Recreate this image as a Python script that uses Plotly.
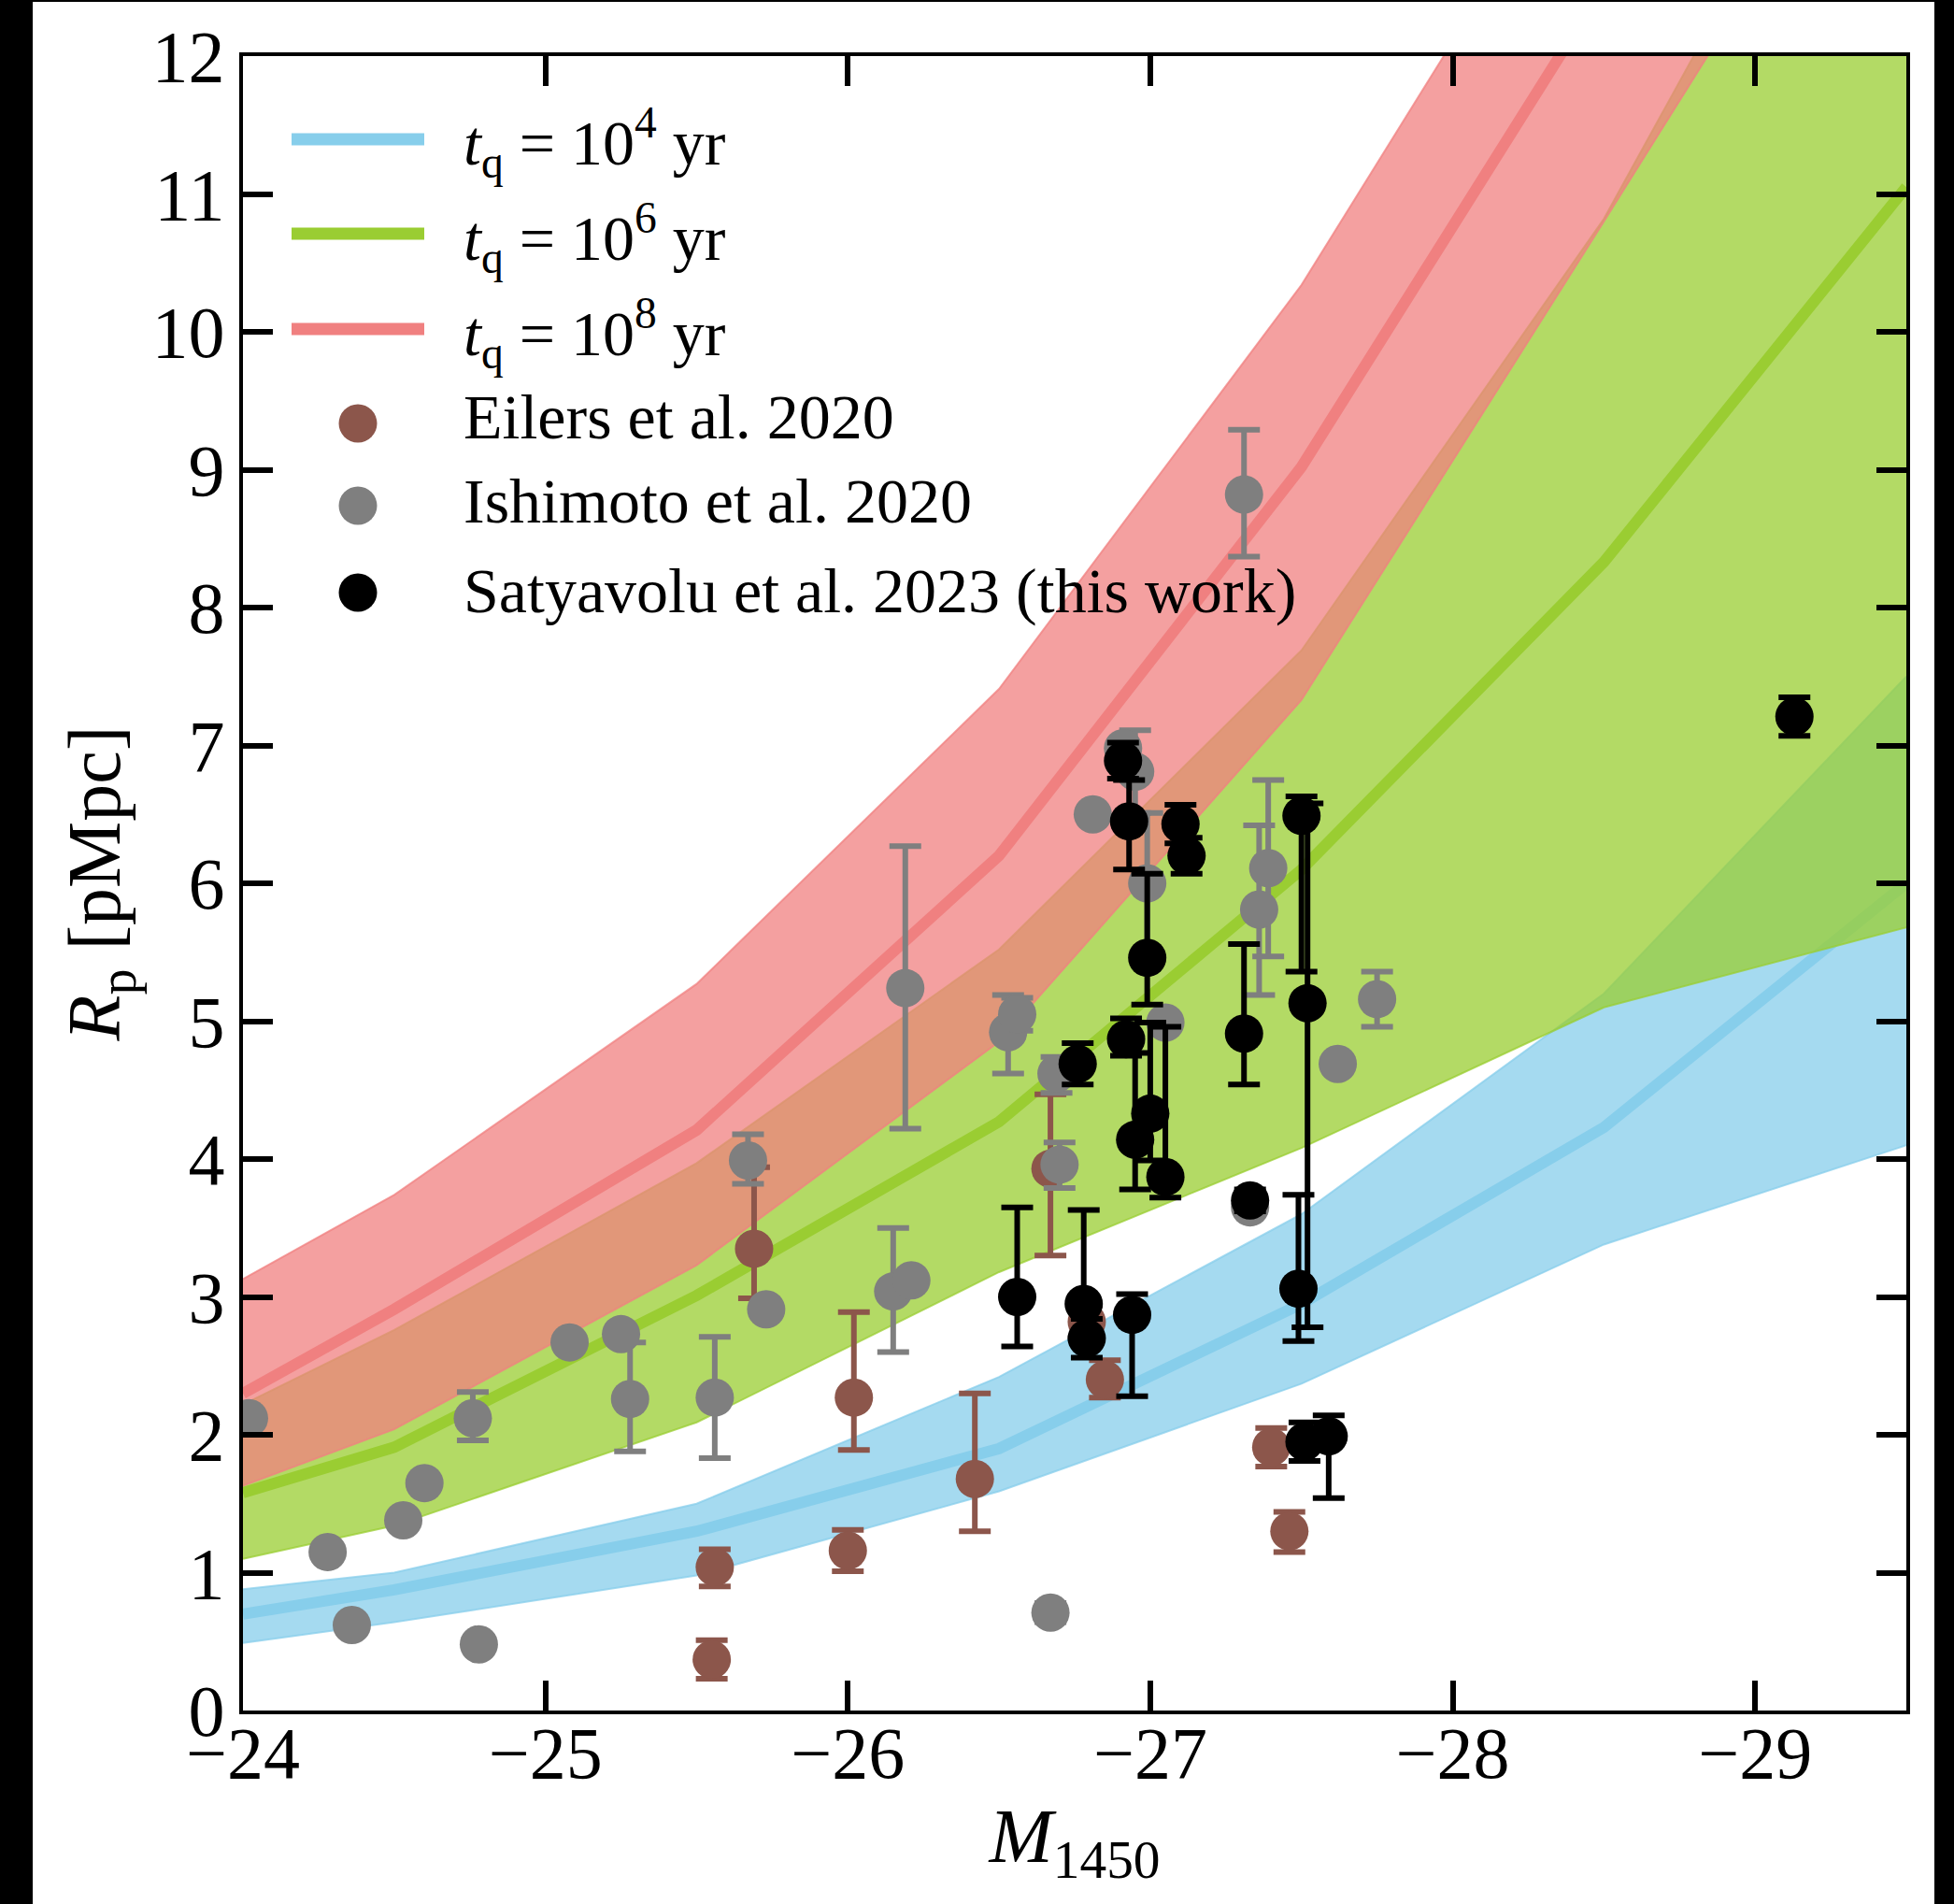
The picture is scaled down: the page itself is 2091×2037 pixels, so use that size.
import plotly.graph_objects as go

# ---------------------------------------------------------------
# Model proximity-zone sizes R_p versus M_1450 for three quasar
# lifetimes (median and 16-84 percentile envelope)
# ---------------------------------------------------------------
M_GRID = [-24.0, -24.5, -25.5, -26.5, -27.5, -28.5, -29.5]

RP_T4_LO = [0.49, 0.64, 0.98, 1.59, 2.37, 3.38, 4.10]
RP_T4_MED = [0.70, 0.875, 1.30, 1.90, 2.95, 4.23, 6.00]
RP_T4_HI = [0.88, 1.00, 1.50, 2.42, 3.60, 5.20, 7.50]

RP_T6_LO = [1.10, 1.34, 2.09, 3.18, 4.08, 5.10, 5.68]
RP_T6_MED = [1.58, 1.91, 3.01, 4.27, 6.10, 8.33, 11.05]
RP_T6_HI = [2.22, 2.76, 3.97, 5.52, 7.69, 10.82, 14.80]

RP_T8_LO = [1.63, 2.04, 3.23, 4.85, 7.33, 10.80, 14.30]
RP_T8_MED = [2.30, 2.91, 4.21, 6.20, 9.02, 12.50, 16.00]
RP_T8_HI = [3.13, 3.74, 5.27, 7.41, 10.34, 13.85, 17.40]

# ---------------------------------------------------------------
# Measured proximity zones
# ---------------------------------------------------------------
EILERS_M = [-25.55, -25.56, -25.69, -26.00, -26.02, -26.42, -26.67, -26.79, -26.85, -27.40, -27.46]
EILERS_RP = [0.37, 1.04, 3.35, 1.16, 2.27, 1.68, 3.93, 2.82, 2.40, 1.91, 1.30]
EILERS_UP = [0.14, 0.13, 0.59, 0.15, 0.62, 0.62, 0.54, 0.12, 0.14, 0.14, 0.14]
EILERS_DN = [0.14, 0.14, 0.36, 0.15, 0.38, 0.38, 0.63, 0.12, 0.13, 0.14, 0.15]

ISHIMOTO_M = [-24.02, -24.28, -24.36, -24.53, -24.60, -24.76, -24.78, -25.08,
              -25.25, -25.28, -25.56, -25.67, -25.73, -26.15, -26.21, -26.19,
              -26.53, -26.56, -26.69, -26.70, -26.67, -26.81, -26.91, -26.95,
              -26.99, -27.05, -27.33, -27.36, -27.39, -27.62, -27.75, -27.31]
ISHIMOTO_RP = [2.12, 1.15, 0.62, 1.38, 1.65, 2.12, 0.48, 2.67,
               2.73, 2.26, 2.27, 3.99, 2.91, 3.04, 3.12, 5.24,
               4.92, 5.05, 4.62, 3.96, 0.71, 6.50, 6.98, 6.81,
               6.00, 4.99, 3.65, 5.81, 6.11, 4.69, 5.16, 8.82]
ISHIMOTO_UP = [0, 0, 0, 0, 0, 0.19, 0, 0,
               0, 0.41, 0.44, 0.19, 0, 0.46, 0, 1.03,
               0.27, 0.12, 0.12, 0.16, 0.07, 0, 0, 0.30,
               0.51, 0, 0.04, 0.61, 0.64, 0, 0.20, 0.47]
ISHIMOTO_DN = [0, 0, 0, 0, 0, 0.16, 0, 0,
               0, 0.38, 0.44, 0.17, 0, 0.44, 0, 1.02,
               0.30, 0.12, 0.14, 0.17, 0.07, 0, 0, 0.30,
               0.50, 0, 0.04, 0.62, 0.64, 0, 0.20, 0.45]

SATYA_M = [-26.91, -26.93, -27.10, -27.12, -26.99, -26.76, -26.92, -26.95,
           -27.00, -27.05, -27.31, -27.33, -27.50, -27.52, -27.49, -26.56,
           -26.78, -26.79, -26.94, -27.51, -27.59, -29.13]
SATYA_RP = [6.89, 6.45, 6.43, 6.20, 5.46, 4.69, 4.87, 4.14,
            4.33, 3.87, 4.91, 3.70, 6.49, 5.13, 3.06, 3.00,
            2.95, 2.70, 2.87, 1.95, 1.99, 7.21]
SATYA_UP = [0.13, 0.30, 0.14, 0.13, 0.61, 0.15, 0.15, 0.63,
            0.66, 1.09, 0.65, 0.08, 0.14, 1.45, 0.68, 0.65,
            0.68, 0.14, 0.15, 0.14, 0.15, 0.14]
SATYA_DN = [0.13, 0.35, 0.14, 0.13, 0.34, 0.15, 0.12, 0.36,
            0.34, 0.15, 0.37, 0.08, 1.13, 2.35, 0.38, 0.36,
            0.25, 0.14, 0.59, 0.14, 0.45, 0.14]

X_TICKS = [-24, -25, -26, -27, -28, -29]
Y_TICKS = list(range(0, 13))

LEGEND_LABELS = [
    "<i>t</i><sub>q</sub> = 10<sup>4</sup> yr",
    "<i>t</i><sub>q</sub> = 10<sup>6</sup> yr",
    "<i>t</i><sub>q</sub> = 10<sup>8</sup> yr",
    "Eilers et al. 2020",
    "Ishimoto et al. 2020",
    "Satyavolu et al. 2023 (this work)",
]

BLUE = "135,206,235"
GREEN = "154,205,50"
RED = "240,128,128"
BROWN = "#8c564b"
GRAY = "#7f7f7f"
BLACK = "#000000"
FONT = "Liberation Serif"

# ---------------------------------------------------------------
# Canvas geometry (pixels)
# ---------------------------------------------------------------
W, H = 2091, 2037
L, R, T, B = 260, 2040, 60, 1830


def px_x(px):
    return (px - L) / (R - L)


def px_y(py):
    return (B - py) / (B - T)


fig = go.Figure()


def add_band(lo, med, hi, rgb):
    edge = f"rgba({rgb},0.75)"
    fig.add_trace(go.Scatter(x=M_GRID, y=lo, mode="lines",
                             line=dict(color=edge, width=2),
                             showlegend=False, hoverinfo="skip"))
    fig.add_trace(go.Scatter(x=M_GRID, y=hi, mode="lines", fill="tonexty",
                             fillcolor=edge, line=dict(color=edge, width=2),
                             showlegend=False, hoverinfo="skip"))
    fig.add_trace(go.Scatter(x=M_GRID, y=med, mode="lines",
                             line=dict(color=f"rgb({rgb})", width=12),
                             showlegend=False))


add_band(RP_T4_LO, RP_T4_MED, RP_T4_HI, BLUE)
add_band(RP_T6_LO, RP_T6_MED, RP_T6_HI, GREEN)
add_band(RP_T8_LO, RP_T8_MED, RP_T8_HI, RED)


def add_points(m, rp, up, dn, color):
    fig.add_trace(go.Scatter(
        x=m, y=rp, mode="markers",
        marker=dict(size=41, color=color, line=dict(width=0)),
        error_y=dict(type="data", symmetric=False, array=up, arrayminus=dn,
                     color=color, thickness=6, width=17),
        showlegend=False))


add_points(EILERS_M, EILERS_RP, EILERS_UP, EILERS_DN, BROWN)
add_points(ISHIMOTO_M, ISHIMOTO_RP, ISHIMOTO_UP, ISHIMOTO_DN, GRAY)
add_points(SATYA_M, SATYA_RP, SATYA_UP, SATYA_DN, BLACK)

# ---------------------------------------------------------------
# Hand-drawn legend
# ---------------------------------------------------------------
shapes = []
annotations = []
line_rows = [149, 250, 352]
line_cols = [f"rgb({BLUE})", f"rgb({GREEN})", f"rgb({RED})"]
for yy, col in zip(line_rows, line_cols):
    shapes.append(dict(type="line", xref="paper", yref="paper",
                       x0=px_x(312), x1=px_x(454), y0=px_y(yy), y1=px_y(yy),
                       line=dict(color=col, width=13)))
marker_rows = [453, 541, 634]
marker_cols = [BROWN, GRAY, BLACK]
rad = 20.5
for yy, col in zip(marker_rows, marker_cols):
    shapes.append(dict(type="circle", xref="paper", yref="paper",
                       x0=px_x(383 - rad), x1=px_x(383 + rad),
                       y0=px_y(yy + rad), y1=px_y(yy - rad),
                       fillcolor=col, line=dict(width=0)))
text_rows = [153, 254, 356, 446, 536, 632]
for yy, lab in zip(text_rows, LEGEND_LABELS):
    annotations.append(dict(text=lab, xref="paper", yref="paper",
                            x=px_x(494), y=px_y(yy), xanchor="left",
                            yanchor="middle", showarrow=False,
                            font=dict(family=FONT, size=68, color="black")))

# dark border strips around the canvas
for x0, x1, y0, y1 in [(0, 35, 0, H), (2070, W, 0, H), (0, W, 0, 2)]:
    shapes.append(dict(type="rect", xref="paper", yref="paper",
                       x0=px_x(x0), x1=px_x(x1), y0=px_y(y1), y1=px_y(y0),
                       fillcolor="black", line=dict(width=0), layer="above"))

axis_common = dict(
    showgrid=False, zeroline=False, showline=True, linecolor="black",
    linewidth=4, mirror="ticks", ticks="inside", ticklen=32, tickwidth=6,
    tickcolor="black",
    tickfont=dict(family=FONT, size=78, color="black"),
)

fig.update_layout(
    width=W, height=H,
    margin=dict(l=L, r=W - R, t=T, b=H - B, autoexpand=False),
    paper_bgcolor="white", plot_bgcolor="white",
    showlegend=False,
    shapes=shapes,
    annotations=annotations,
    xaxis=dict(range=[-24, -29.5], tickvals=X_TICKS, automargin=False,
               ticklabelstandoff=-26,
               title=dict(text="<i>M</i><sub>1450</sub>", standoff=18,
                          font=dict(family=FONT, size=82, color="black")),
               **axis_common),
    yaxis=dict(range=[0, 12], tickvals=Y_TICKS, automargin=False,
               title=dict(text="<i>R</i><sub>p</sub> [pMpc]", standoff=8,
                          font=dict(family=FONT, size=80, color="black")),
               **axis_common),
)

fig.write_html("out.html")
